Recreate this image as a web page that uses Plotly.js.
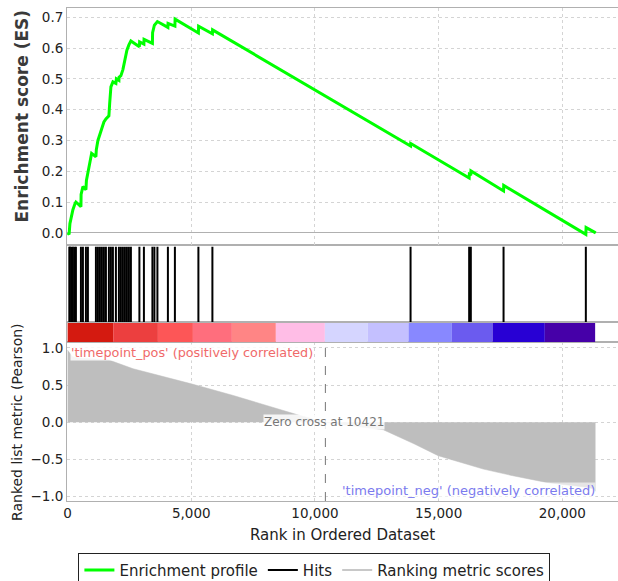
<!DOCTYPE html>
<html>
<head>
<meta charset="utf-8">
<script src="https://cdn.plot.ly/plotly-3.0.1.min.js"></script>
<style>html,body{margin:0;padding:0;background:#fff;}#chart{width:618px;height:581px;}</style>
</head>
<body>
<div id="chart"></div>
<script>
// Enrichment score running profile (rank, ES)
const esRank = [0,60,93,154,214,300,335,538,545,618,740,760,820,900,970,1144,1160,1225,1306,1386,1467,1548,1669,1700,1750,1831,1952,1970,2074,2080,2154,2235,2316,2397,2478,2558,2902,2910,3084,3090,3428,3435,3508,3630,4054,4060,4337,4345,5287,5295,5853,5860,13864,13870,16233,16240,16300,16305,17623,17630,20950,20960,21350];
const esValue = [0,-0.005,0.03,0.055,0.075,0.095,0.1,0.085,0.125,0.15,0.14,0.17,0.195,0.22,0.258,0.247,0.27,0.3,0.32,0.34,0.36,0.37,0.38,0.42,0.474,0.49,0.485,0.5,0.495,0.505,0.51,0.53,0.56,0.593,0.61,0.623,0.604,0.62,0.613,0.628,0.615,0.65,0.674,0.686,0.667,0.68,0.671,0.694,0.649,0.671,0.646,0.659,0.282,0.29,0.178,0.19,0.187,0.201,0.136,0.154,-0.005,0.017,0.0];
// Hit positions (rank of gene-set members)
const hitRanks = [70,93,154,214,275,335,538,618,740,820,1144,1225,1306,1386,1467,1548,1669,1750,1831,1952,2074,2154,2235,2316,2397,2478,2558,2902,3084,3428,3508,3630,4054,4337,5287,5853,13864,16233,16300,17623,20950];
// Ranked list metric
const metricRank = [0,80,200,600,1000,1650,2650,4000,5000,6700,8050,9400,10421,11000,12000,12757,14000,14980,16800,18000,19360,20977,21300,21340];
const metricValue = [0.97,0.93,0.88,0.86,0.85,0.84,0.72,0.606,0.517,0.36,0.225,0.09,0,-0.03,-0.07,-0.1,-0.29,-0.45,-0.63,-0.72,-0.81,-0.875,-0.9,-0.93];
const zeroCross = 10421;
// Heat bar segments
const barBounds = [0,1843,3650,5065,6641,8418,10400,12138,13783,15534,17178,19292,21326];
const barColors = ["#d41a10","#ec3f3f","#fd5657","#ff6e7d","#ff8585","#ffbde6","#d5d5ff","#c4c0ff","#8888ff","#6b5bef","#2800d4","#4600a8"];
// Labels
const posLabel = "'timepoint_pos' (positively correlated)";
const negLabel = "'timepoint_neg' (negatively correlated)";
const zeroLabel = "Zero cross at " + zeroCross;

const hx = [], hy = [];
hitRanks.forEach(r => { hx.push(r, r, null); hy.push(0.0, 0.98, null); });
const bx = [], bw = [];
for (let i = 0; i < barColors.length; i++) { bx.push((barBounds[i] + barBounds[i+1]) / 2); bw.push(barBounds[i+1] - barBounds[i]); }

const F = "DejaVu Sans, Verdana, sans-serif";
const traces = [
  {x: esRank, y: esValue, xaxis: 'x4', yaxis: 'y4', type: 'scatter', mode: 'lines', line: {color: '#00ff00', width: 3}, name: 'Enrichment profile'},
  {x: hx, y: hy, xaxis: 'x3', yaxis: 'y3', type: 'scatter', mode: 'lines', line: {color: '#000', width: 2}, name: 'Hits'},
  {x: bx, y: barColors.map(() => 1), width: bw, base: 0, xaxis: 'x2', yaxis: 'y2', type: 'bar', marker: {color: barColors, line: {width: 0}}, showlegend: false, hoverinfo: 'skip'},
  {x: metricRank, y: metricValue, xaxis: 'x', yaxis: 'y', type: 'scatter', mode: 'lines', fill: 'tozeroy', fillcolor: '#bebebe', line: {color: '#bebebe', width: 0.5}, showlegend: false},
  {x: [null], y: [null], xaxis: 'x', yaxis: 'y', type: 'scatter', mode: 'lines', line: {color: '#c8c8c8', width: 2}, name: 'Ranking metric scores'}
];

const xr = [-25, 22250];
const gridc = '#d4d4d4';
const lc = '#b0b0b0';
const xbase = {range: xr, showline: true, mirror: true, linecolor: lc, linewidth: 1, zeroline: false, fixedrange: true};
const layout = {
  width: 618, height: 581,
  margin: {l: 67, r: 0, t: 8, b: 80, autoexpand: false},
  paper_bgcolor: '#fff', plot_bgcolor: '#fff',
  font: {family: F, size: 13, color: '#333'},
  showlegend: true,
  legend: {orientation: 'h', x: 0.449, xanchor: 'center', y: -0.105, yanchor: 'top', bordercolor: '#222', borderwidth: 1, font: {family: F, size: 15, color: '#222'}, bgcolor: '#fff', traceorder: 'normal'},
  xaxis: Object.assign({}, xbase, {anchor: 'y', tickvals: [0,5000,10000,15000,20000], ticktext: ['0','5,000','10,000','15,000','20,000'], ticks: '', showgrid: true, gridcolor: gridc, griddash: 'dot', tickfont: {size: 13.5, color: '#222'}, title: {text: 'Rank in Ordered Dataset', font: {size: 15, color: '#222'}, standoff: 9}}),
  xaxis2: Object.assign({}, xbase, {anchor: 'y2', matches: 'x', showticklabels: false, showgrid: false, ticks: ''}),
  xaxis3: Object.assign({}, xbase, {anchor: 'y3', matches: 'x', showticklabels: false, showgrid: false, ticks: ''}),
  xaxis4: Object.assign({}, xbase, {anchor: 'y4', matches: 'x', showticklabels: false, showgrid: true, gridcolor: gridc, griddash: 'dot', tickvals: [0,5000,10000,15000,20000], ticks: ''}),
  yaxis: {domain: [0, 0.3225], range: [-1.06, 1.08], tickvals: [-1,-0.5,0,0.5,1], ticktext: ['\u22121.0','\u22120.5','0.0','0.5','1.0'], showline: true, mirror: true, linecolor: lc, showgrid: true, gridcolor: gridc, griddash: 'dot', zeroline: false, ticks: '', tickfont: {size: 13.5, color: '#222'}, fixedrange: true},
  yaxis2: {domain: [0.3225, 0.363], range: [0, 1], showticklabels: false, showgrid: false, zeroline: false, showline: true, mirror: true, linecolor: lc, ticks: '', fixedrange: true},
  yaxis3: {domain: [0.363, 0.519], range: [0, 1], showticklabels: false, showgrid: false, zeroline: false, showline: true, mirror: true, linecolor: lc, ticks: '', fixedrange: true},
  yaxis4: {domain: [0.519, 1], range: [-0.04, 0.73], tickvals: [0,0.1,0.2,0.3,0.4,0.5,0.6,0.7], ticktext: ['0.0','0.1','0.2','0.3','0.4','0.5','0.6','0.7'], showline: true, mirror: true, linecolor: lc, showgrid: true, gridcolor: gridc, griddash: 'dot', zeroline: true, zerolinecolor: '#b0b0b0', zerolinewidth: 1, ticks: '', tickfont: {size: 13.5, color: '#222'}, fixedrange: true},
  shapes: [
    {type: 'line', xref: 'x', yref: 'y domain', x0: zeroCross, x1: zeroCross, y0: 0, y1: 1, line: {color: '#777', width: 1, dash: 'dash'}}
  ],
  annotations: [
    {text: 'Enrichment score (ES)', xref: 'paper', yref: 'paper', x: -0.0815, y: 0.78, textangle: -90, showarrow: false, xanchor: 'center', yanchor: 'middle', font: {family: F, size: 17, color: '#3a3a3a', weight: 'bold'}},
    {text: 'Ranked list metric (Pearson)', xref: 'paper', yref: 'paper', x: -0.091, y: 0.16, textangle: -90, showarrow: false, xanchor: 'center', yanchor: 'middle', font: {family: F, size: 14, color: '#222'}},
    {text: posLabel, xref: 'x', yref: 'y', x: 100, y: 0.94, xanchor: 'left', yanchor: 'middle', showarrow: false, font: {family: F, size: 12.8, color: '#f06a6a'}, bgcolor: 'rgba(255,255,255,0.85)', borderpad: 0},
    {text: zeroLabel, xref: 'x', yref: 'y', x: 10368, y: 0, xanchor: 'center', yanchor: 'middle', showarrow: false, font: {family: F, size: 12, color: '#777'}, bgcolor: 'rgba(255,255,255,0.85)', borderpad: 0},
    {text: negLabel, xref: 'x', yref: 'y', x: 21350, y: -0.92, xanchor: 'right', yanchor: 'middle', showarrow: false, font: {family: F, size: 13, color: '#7b7bee'}, bgcolor: 'rgba(255,255,255,0.6)', borderpad: 0}
  ]
};
Plotly.newPlot('chart', traces, layout, {displayModeBar: false, staticPlot: true});
</script>
</body>
</html>
